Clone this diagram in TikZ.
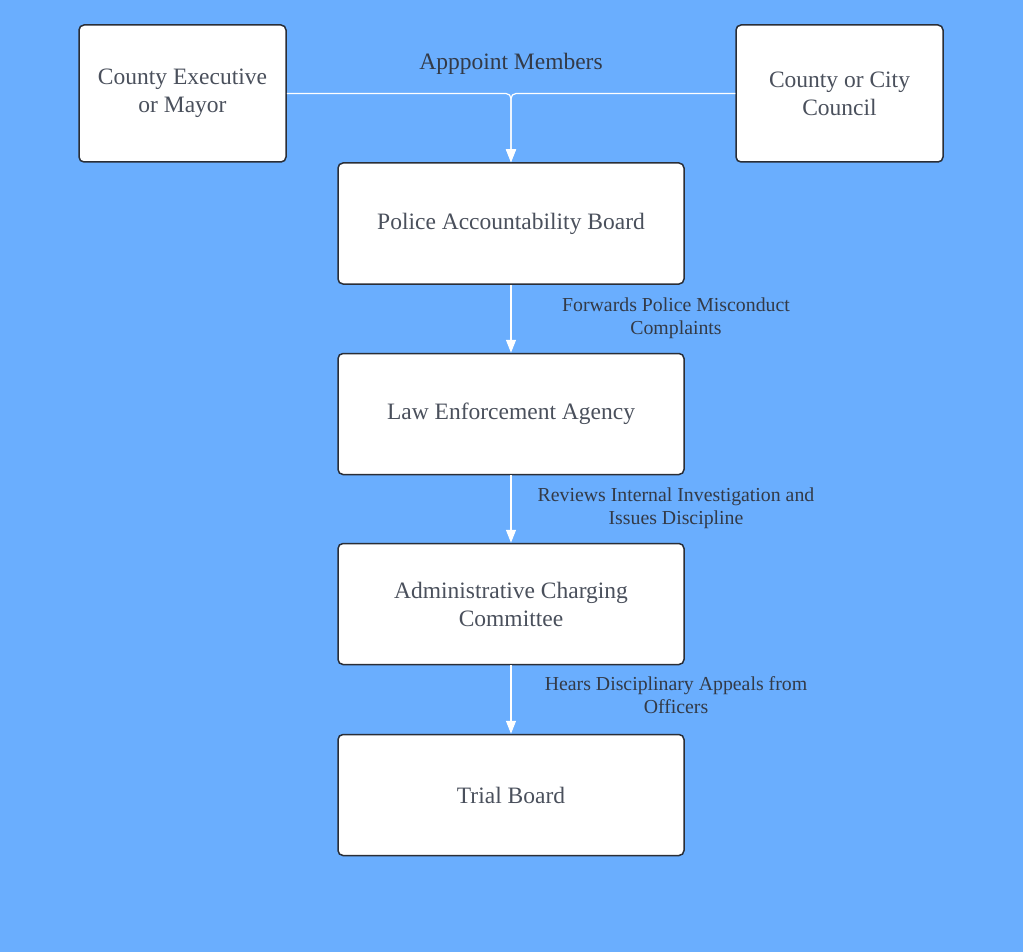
\documentclass[tikz,border=0pt]{standalone}
\usepackage{fontspec}
\setmainfont{Liberation Serif}
\usetikzlibrary{arrows.meta}
\definecolor{bg}{HTML}{6AAEFE}
\definecolor{boxtext}{HTML}{4A505C}
\definecolor{labtext}{HTML}{333A47}
\definecolor{boxline}{HTML}{2A2E36}
\tikzset{
  box/.style={draw=boxline, line width=1.5pt, fill=white, rounded corners=5pt,
    minimum width=346pt, minimum height=121pt, align=center, text=boxtext,
    font=\fontsize{23.5}{28}\selectfont, inner sep=0pt},
  sidebox/.style={box, minimum width=207pt, minimum height=137pt},
  conn/.style={draw=white, line width=1.2pt, -{Triangle[length=13pt,width=10pt,fill=white]}},
  lab/.style={text=labtext, align=center, font=\fontsize{19.8}{23}\selectfont, inner sep=0pt},
  toplab/.style={text=labtext, align=center, font=\fontsize{23.5}{28}\selectfont, inner sep=0pt}
}
\begin{document}
\begin{tikzpicture}[x=1pt,y=-1pt]
\useasboundingbox (0,0) rectangle (1023,952);
\fill[bg] (0,0) rectangle (1023,952);
\node[sidebox] (exec) at (182.5,93.5) {County Executive\\or Mayor};
\node[sidebox] (council) at (839.5,93.5) {County or City\\Council};
\node[box] (pab) at (511,223.5) {Police Accountability Board};
\node[box] (lea) at (511,414) {Law Enforcement Agency};
\node[box] (acc) at (511,604) {Administrative Charging\\Committee};
\node[box] (trial) at (511,795) {Trial Board};
\draw[conn, rounded corners=5pt] (exec.east) -| (pab.north);
\draw[conn, rounded corners=5pt] (council.west) -| (pab.north);
\node[toplab] (appoint) at (511,64) {Apppoint Members};
\draw[conn] (pab) -- (lea);
\draw[conn] (lea) -- (acc);
\draw[conn] (acc) -- (trial);
\node[lab] (l1) at (676,318) {Forwards Police Misconduct\\Complaints};
\node[lab] (l2) at (676,508) {Reviews Internal Investigation and\\Issues Discipline};
\node[lab] (l3) at (676,695) {Hears Disciplinary Appeals from\\Officers};
\end{tikzpicture}
\end{document}
